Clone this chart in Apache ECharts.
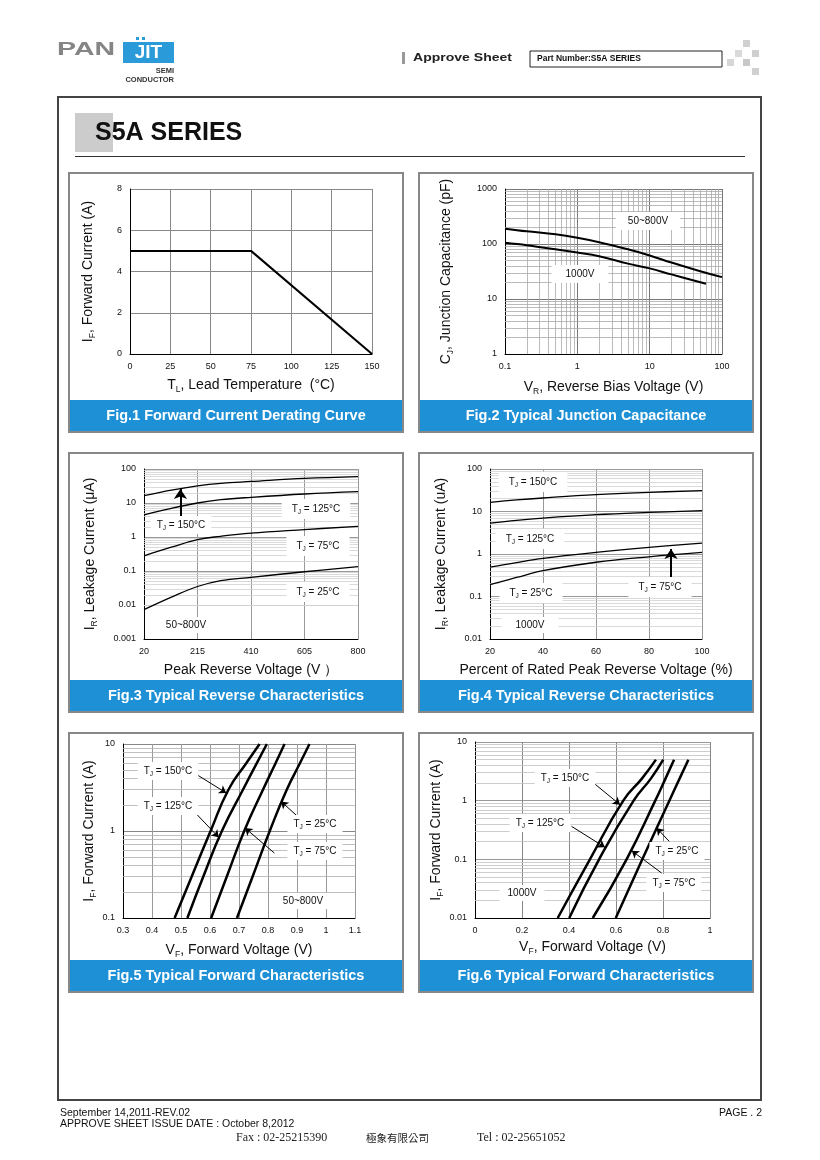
<!DOCTYPE html>
<html><head><meta charset="utf-8">
<script src="https://cdn.jsdelivr.net/npm/echarts@6/dist/echarts.min.js"></script>
<style>html,body{margin:0;padding:0;background:#fff}#c{width:820px;height:1160px}</style>
</head><body><div id="c"></div>
<script>
// ---------------- DATA ----------------
// Fig.1 Forward current derating
const fig1Temp = [0, 75, 150];
const fig1Current = [5, 5, 0];
// Fig.2 Junction capacitance
const fig2VrA = [0.1, 0.2, 0.5, 1, 2, 5, 10, 20, 50, 100];
const fig2Cj50_800 = [190, 170, 150, 130, 108, 80, 62, 46, 32, 25];
const fig2VrB = [0.1, 0.2, 0.5, 1, 2, 5, 10, 20, 60];
const fig2Cj1000 = [105, 95, 80, 70, 60, 44, 36, 28, 19];
// Fig.3 Reverse characteristics 50~800V
const fig3Volt = [20, 120, 215, 300, 410, 605, 800];
const fig3Ir150 = [16.4, 24, 32, 38, 43, 53, 60];
const fig3Ir125 = [4.5, 7, 10, 12.5, 14.7, 18.4, 21.5];
const fig3Ir75 = [0.28, 0.5, 0.84, 1.05, 1.3, 1.65, 2.06];
const fig3Ir25 = [0.0073, 0.017, 0.035, 0.052, 0.065, 0.095, 0.134];
const fig3XTicks = [20, 215, 410, 605, 800];
// Fig.4 Reverse characteristics 1000V
const fig4Pct = [20, 30, 40, 60, 80, 100];
const fig4Ir150 = [16.4, 18.7, 20.8, 24.9, 28.2, 31];
const fig4Ir125 = [5.3, 6.2, 7.0, 8.4, 9.5, 10.5];
const fig4Ir75 = [0.49, 0.63, 0.79, 1.09, 1.43, 1.8];
const fig4Ir25 = [0.19, 0.28, 0.405, 0.64, 0.86, 1.09];
// Fig.5 Forward characteristics 50~800V (voltage at each current)
const fig5If = [0.1, 0.3, 1, 3, 6, 10];
const fig5Vf150 = [0.478, 0.537, 0.602, 0.664, 0.725, 0.771];
const fig5Vf125 = [0.522, 0.577, 0.641, 0.714, 0.761, 0.796];
const fig5Vf75 = [0.604, 0.658, 0.718, 0.783, 0.826, 0.857];
const fig5Vf25 = [0.693, 0.747, 0.806, 0.865, 0.91, 0.943];
// Fig.6 Forward characteristics 1000V
const fig6If = [0.01, 0.1, 1, 2.4, 5];
const fig6Vf150 = [0.352, 0.489, 0.631, 0.711, 0.77];
const fig6Vf125 = [0.401, 0.528, 0.675, 0.749, 0.801];
const fig6Vf75 = [0.501, 0.645, 0.767, 0.811, 0.847];
const fig6Vf25 = [0.599, 0.712, 0.827, 0.871, 0.908];
// Annotation arrows (data units: [from],[to])
const fig3Arrow = [[152.8, 3.8], [152.8, 25.8]];
const fig4Arrow = [[88.3, 0.208], [88.3, 1.31]];
const fig5Arrows = [[[0.558, 4.37], [0.656, 2.74]], [[0.547, 1.65], [0.63, 0.845]], [[0.822, 0.558], [0.721, 1.08]], [[0.905, 1.44], [0.845, 2.19]]];
const fig6Arrows = [[[0.496, 2.14], [0.617, 0.855]], [[0.411, 0.365], [0.553, 0.16]], [[0.794, 0.0585], [0.667, 0.14]], [[0.826, 0.203], [0.773, 0.342]]];
const figTitles = ['Fig.1 Forward Current Derating Curve', 'Fig.2 Typical Junction Capacitance', 'Fig.3 Typical Reverse Characteristics', 'Fig.4 Typical Reverse Characteristics', 'Fig.5 Typical Forward Characteristics', 'Fig.6 Typical Forward Characteristics'];

// ---------------- HELPERS ----------------
const F = 'Liberation Sans, Arial, Helvetica, sans-serif';
const zip = (a, b) => a.map((v, i) => [v, b[i]]);
function minorLog(e0, e1) { const o = []; for (let e = e0; e < e1; e++) for (let m = 2; m <= 9; m++) o.push(+(m * Math.pow(10, e)).toPrecision(3)); return o; }
const fmt = v => String(+Number(v).toPrecision(4));
const subRich = { s: { fontSize: 8.5, lineHeight: 9, verticalAlign: 'bottom', fontFamily: F, color: '#111' } };
const nameStyle = { fontSize: 14, fontFamily: F, color: '#111', lineHeight: 18, rich: subRich };

function ax(idx, o) {
  const base = {
    gridIndex: idx, axisTick: { show: false },
    axisLine: { show: true, onZero: false, lineStyle: { color: '#000', width: 1 } },
    axisLabel: { fontSize: 9, color: '#111', fontFamily: F, margin: 8, formatter: fmt },
    splitLine: { show: true, lineStyle: { color: '#888', width: 1 } },
    nameLocation: 'middle', nameTextStyle: nameStyle
  };
  const r = Object.assign(base, o);
  if (o.splitColor) { r.splitLine = { show: true, lineStyle: { color: o.splitColor, width: 1 } }; delete r.splitColor; }
  return r;
}
function curve(idx, data, w, smooth, extra) {
  return Object.assign({ type: 'line', xAxisIndex: idx, yAxisIndex: idx, data: data, showSymbol: false, symbol: 'none', smooth: smooth, silent: true, z: 3, lineStyle: { color: '#000', width: w } }, extra || {});
}
function minorSeries(idx, axisKey, vals, color) {
  return { type: 'line', xAxisIndex: idx, yAxisIndex: idx, data: [], silent: true, z: 1,
    markLine: { silent: true, symbol: 'none', animation: false, z: 1, label: { show: false }, emphasis: { disabled: true },
      lineStyle: { color: color, width: 0.8, type: 'solid' }, data: vals.map(v => ({ [axisKey]: v })) } };
}
function arrowML(list, w, size) {
  return { silent: true, animation: false, z: 4, symbol: ['none', 'arrow'], symbolSize: size, label: { show: false }, emphasis: { disabled: true },
    lineStyle: { color: '#000', width: w, type: 'solid' },
    data: list.map(p => [{ coord: p[0] }, { coord: p[1] }]) };
}

// ---------------- GRAPHIC ----------------
const G = [];
function rect(x, y, w, h, style, z) { G.push({ type: 'rect', shape: { x, y, width: w, height: h }, style, z: z || 0, silent: true }); }
function line(x1, y1, x2, y2, stroke, lw) { G.push({ type: 'line', shape: { x1, y1, x2, y2 }, style: { stroke, lineWidth: lw }, z: 0, silent: true }); }
function txt(x, y, t, st, z) { G.push({ type: 'text', x, y, style: Object.assign({ text: t, fontFamily: F, fill: '#111', align: 'left', verticalAlign: 'middle' }, st), z: z || 10, silent: true }); }
const tj = t => '{a|T}{s|J}{a| = ' + t + '°C}';
const lblRich = { a: { fontSize: 10, fontFamily: F, color: '#111', lineHeight: 14 }, s: { fontSize: 6.5, fontFamily: F, color: '#111', lineHeight: 7, verticalAlign: 'bottom' } };
function lbl(x, y, t, pad) { txt(x, y, t, { rich: lblRich, fontSize: 10, align: 'center', verticalAlign: 'middle', backgroundColor: '#fff', padding: pad || [2, 6] }, 50); }

// header
txt(57, 50, 'PAN', { fontSize: 19, fontWeight: 'bold', fill: '#858585', fontFamily: 'Liberation Sans, Arial' }, 10);
G[G.length - 1].scaleX = 1.5;
rect(123, 42, 51, 21, { fill: '#2a9bd8' });
rect(136, 37, 3, 3, { fill: '#2a9bd8' }); rect(142, 37, 3, 3, { fill: '#2a9bd8' });
txt(148.5, 53, 'JIT', { fontSize: 19, fontWeight: 'bold', fill: '#fff', align: 'center' });
txt(174, 71, 'SEMI', { fontSize: 7.5, fontWeight: 'bold', fill: '#333', align: 'right' });
txt(174, 80, 'CONDUCTOR', { fontSize: 7.5, fontWeight: 'bold', fill: '#333', align: 'right' });
rect(402, 52, 3, 12, { fill: '#999' });
txt(413, 58, 'Approve Sheet', { fontSize: 11.5, fontWeight: 'bold', fill: '#222' });
G[G.length - 1].scaleX = 1.22;
rect(530, 51, 192, 16, { fill: 'none', stroke: '#222', lineWidth: 1 });
txt(537, 59, 'Part Number:S5A SERIES', { fontSize: 8.5, fontWeight: 'bold', fill: '#111' });
[[743, 40, '#d0d0d0'], [735, 50, '#dadada'], [752, 50, '#cfcfcf'], [727, 59, '#d6d6d6'], [743, 59, '#c8c8c8'], [752, 68, '#d0d0d0']].forEach(s => rect(s[0], s[1], 7, 7, { fill: s[2] }));

// frame + title
rect(58, 97, 703, 1003, { fill: 'none', stroke: '#444', lineWidth: 2 });
rect(75, 113, 38, 39, { fill: '#cccccc' });
txt(95, 133, 'S5A SERIES', { fontSize: 25, fontWeight: 'bold', fill: '#111' });
line(75, 156.5, 745, 156.5, '#333', 1);

// panels
const panelPos = [[69, 173], [419, 173], [69, 453], [419, 453], [69, 733], [419, 733]];
panelPos.forEach((p, i) => {
  rect(p[0], p[1], 334, 259, { fill: 'none', stroke: '#888', lineWidth: 2 });
  rect(p[0] + 1, p[1] + 227, 332, 31, { fill: '#1e90d6' });
  txt(p[0] + 167, p[1] + 243, figTitles[i], { fontSize: 14.5, fontWeight: 'bold', fill: '#fff', align: 'center' });
});

// chart labels
lbl(648, 221, '50~800V', [4, 12]); lbl(580, 274, '1000V', [4, 14]);
lbl(181, 525, tj(150)); lbl(316, 509, tj(125), [3, 10]); lbl(318, 546, tj(75), [3, 10]); lbl(318, 592, tj(25), [3, 10]); lbl(186, 625, '50~800V', [3, 10]);
lbl(533, 482, tj(150), [3, 10]); lbl(530, 539, tj(125), [3, 10]); lbl(531, 593, tj(25), [3, 10]); lbl(660, 587, tj(75), [3, 10]); lbl(530, 625, '1000V', [3, 14]);
lbl(168, 771, tj(150)); lbl(168, 806, tj(125)); lbl(315, 824, tj(25)); lbl(315, 851, tj(75)); lbl(303, 901, '50~800V', [3, 8]);
lbl(565, 778, tj(150)); lbl(540, 823, tj(125)); lbl(677, 851, tj(25)); lbl(674, 883, tj(75)); lbl(522, 893, '1000V', [3, 8]);

// footer
txt(60, 1113, 'September 14,2011-REV.02', { fontSize: 10.5, fill: '#111' });
txt(60, 1124, 'APPROVE SHEET ISSUE DATE : October 8,2012', { fontSize: 10.5, fill: '#111' });
txt(762, 1113, 'PAGE . 2', { fontSize: 10.5, fill: '#111', align: 'right' });
txt(236, 1138, 'Fax : 02-25215390', { fontSize: 12, fill: '#222', fontFamily: 'Liberation Serif, serif' });
txt(366, 1138, '極象有限公司', { fontSize: 10.5, fill: '#222', fontFamily: 'Noto Sans CJK TC' });
txt(477, 1138, 'Tel : 02-25651052', { fontSize: 12, fill: '#222', fontFamily: 'Liberation Serif, serif' });

// ---------------- OPTION ----------------
const grids = [
  { left: 130, top: 189, width: 242, height: 165 },
  { left: 505, top: 189, width: 217, height: 165 },
  { left: 144, top: 469, width: 214, height: 170 },
  { left: 490, top: 469, width: 212, height: 170 },
  { left: 123, top: 744, width: 232, height: 174 },
  { left: 475, top: 742, width: 235, height: 176 }
];
const xAxes = [
  ax(0, { type: 'value', min: 0, max: 150, interval: 25, name: 'T{s|L}, Lead Temperature  (°C)', nameGap: 22 }),
  ax(1, { type: 'log', logBase: 10, min: 0.1, max: 100, name: 'V{s|R}, Reverse Bias Voltage (V)', nameGap: 24, splitColor: '#777' }),
  ax(2, { type: 'value', min: fig3XTicks[0], max: fig3XTicks[fig3XTicks.length - 1], interval: fig3XTicks[1] - fig3XTicks[0], name: 'Peak Reverse Voltage (V ）', nameGap: 22, splitColor: '#999' }),
  ax(3, { type: 'value', min: 20, max: 100, interval: 20, name: 'Percent of Rated Peak Reverse Voltage (%)', nameGap: 22, splitColor: '#999' }),
  ax(4, { type: 'value', min: 0.3, max: 1.1, interval: 0.1, name: 'V{s|F}, Forward Voltage (V)', nameGap: 23, splitColor: '#999', axisLabel: { fontSize: 9, color: '#111', fontFamily: F, margin: 8, formatter: v => String(+v.toFixed(2)) } }),
  ax(5, { type: 'value', min: 0, max: 1, interval: 0.2, name: 'V{s|F}, Forward Voltage (V)', nameGap: 20, splitColor: '#888', axisLabel: { fontSize: 9, color: '#111', fontFamily: F, margin: 8, formatter: v => String(+v.toFixed(2)) } })
];
const yAxes = [
  ax(0, { type: 'value', min: 0, max: 8, interval: 2, name: 'I{s|F}, Forward Current (A)', nameGap: 33, nameRotate: 90 }),
  ax(1, { type: 'log', logBase: 10, min: 1, max: 1000, name: 'C{s|J}, Junction Capacitance (pF)', nameGap: 50, nameRotate: 90, splitColor: '#777' }),
  ax(2, { type: 'log', logBase: 10, min: 0.001, max: 100, name: 'I{s|R}, Leakage Current (μA)', nameGap: 45, nameRotate: 90, splitColor: '#999' }),
  ax(3, { type: 'log', logBase: 10, min: 0.01, max: 100, name: 'I{s|R}, Leakage Current (uA)', nameGap: 40, nameRotate: 90, splitColor: '#999' }),
  ax(4, { type: 'log', logBase: 10, min: 0.1, max: 10, name: 'I{s|F}, Forward Current (A)', nameGap: 24, nameRotate: 90, splitColor: '#888' }),
  ax(5, { type: 'log', logBase: 10, min: 0.01, max: 10, name: 'I{s|F}, Forward Current (A)', nameGap: 27, nameRotate: 90, splitColor: '#999' })
];
const series = [
  curve(0, zip(fig1Temp, fig1Current), 2, false),
  minorSeries(1, 'xAxis', minorLog(-1, 2), '#aaa'),
  minorSeries(1, 'yAxis', minorLog(0, 3), '#aaa'),
  curve(1, zip(fig2VrA, fig2Cj50_800), 2, 0.4),
  curve(1, zip(fig2VrB, fig2Cj1000), 2, 0.4),
  minorSeries(2, 'yAxis', minorLog(-3, 2), '#d0d0d0'),
  curve(2, zip(fig3Volt, fig3Ir150), 1.3, 0.4, { markLine: arrowML([fig3Arrow], 2, 10) }),
  curve(2, zip(fig3Volt, fig3Ir125), 1.3, 0.4),
  curve(2, zip(fig3Volt, fig3Ir75), 1.3, 0.4),
  curve(2, zip(fig3Volt, fig3Ir25), 1.3, 0.4),
  minorSeries(3, 'yAxis', minorLog(-2, 2), '#d0d0d0'),
  curve(3, zip(fig4Pct, fig4Ir150), 1.3, 0.4),
  curve(3, zip(fig4Pct, fig4Ir125), 1.3, 0.4),
  curve(3, zip(fig4Pct, fig4Ir75), 1.3, 0.4, { markLine: arrowML([fig4Arrow], 2, 10) }),
  curve(3, zip(fig4Pct, fig4Ir25), 1.3, 0.4),
  minorSeries(4, 'yAxis', minorLog(-1, 1), '#b0b0b0'),
  curve(4, zip(fig5Vf150, fig5If), 2.5, 0.5, { markLine: arrowML(fig5Arrows, 1, 7) }),
  curve(4, zip(fig5Vf125, fig5If), 2.5, 0.5),
  curve(4, zip(fig5Vf75, fig5If), 2.5, 0.5),
  curve(4, zip(fig5Vf25, fig5If), 2.5, 0.5),
  minorSeries(5, 'yAxis', minorLog(-2, 1), '#c0c0c0'),
  curve(5, zip(fig6Vf150, fig6If), 2.5, 0.5, { markLine: arrowML(fig6Arrows, 1, 7) }),
  curve(5, zip(fig6Vf125, fig6If), 2.5, 0.5),
  curve(5, zip(fig6Vf75, fig6If), 2.5, 0.5),
  curve(5, zip(fig6Vf25, fig6If), 2.5, 0.5)
];
const chart = echarts.init(document.getElementById('c'), null, { renderer: 'canvas' });
chart.setOption({ animation: false, backgroundColor: '#fff', textStyle: { fontFamily: F }, grid: grids, xAxis: xAxes, yAxis: yAxes, series: series, graphic: { elements: G } });
</script></body></html>
